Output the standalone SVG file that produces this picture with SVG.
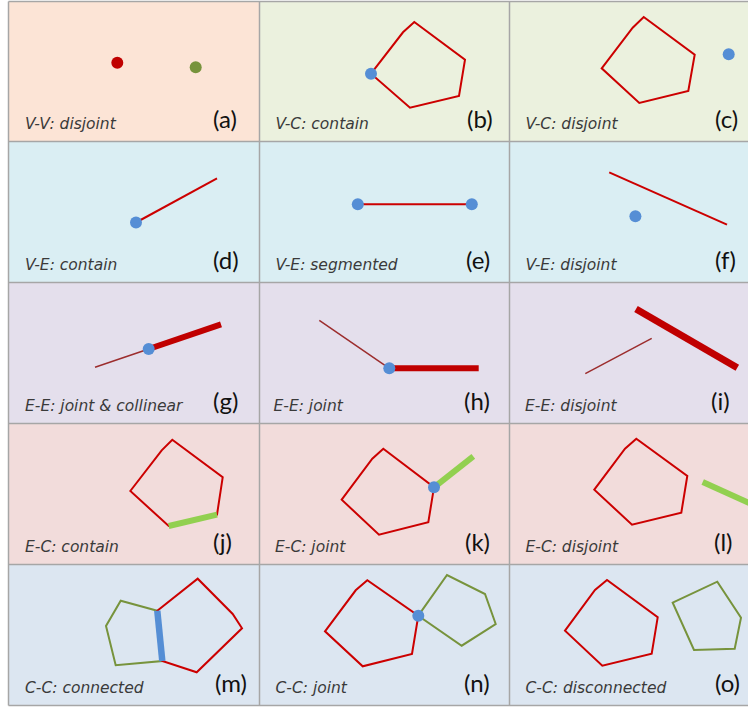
<svg xmlns="http://www.w3.org/2000/svg" width="748" height="708" viewBox="0 0 748 708">
<style>
.cap{font-family:"DejaVu Sans","Open Sans",sans-serif;font-style:italic;font-size:15.5px;fill:#3a3a3a}
.lab{font-family:Lato,"Liberation Sans",sans-serif;font-size:24px;fill:#111}
.grid{stroke:#a6a6a6;stroke-width:1.5;fill:none}
.pr{fill:none;stroke:#cc0000;stroke-width:2;stroke-linejoin:miter}
.pg{fill:none;stroke:#77933c;stroke-width:2}
.er{stroke:#cc0000;stroke-width:2}
.thin{stroke:#9c2d2d;stroke-width:1.5}
.thick{stroke:#c00000;stroke-width:6}
.eg{stroke:#92d050;stroke-width:6}
.vb{fill:#558ed5}
</style>
<rect x="0" y="0" width="748" height="708" fill="#ffffff"/>
<g id="backgrounds">
<rect x="9" y="2" width="251" height="140" fill="#fce4d6"/>
<rect x="259" y="2" width="489" height="140" fill="#ebf1de"/>
<rect x="9" y="141" width="739" height="141" fill="#daeef3"/>
<rect x="9" y="282" width="739" height="141" fill="#e4dfec"/>
<rect x="9" y="423" width="739" height="141" fill="#f2dcdb"/>
<rect x="9" y="564" width="739" height="141" fill="#dce6f1"/>
</g>
<g id="grid" class="grid">
<line x1="8.5" y1="1.5" x2="748" y2="1.5"/>
<line x1="8.5" y1="141.5" x2="748" y2="141.5"/>
<line x1="8.5" y1="282.5" x2="748" y2="282.5"/>
<line x1="8.5" y1="423.5" x2="748" y2="423.5"/>
<line x1="8.5" y1="564.5" x2="748" y2="564.5"/>
<line x1="8.5" y1="705.5" x2="748" y2="705.5"/>
<line x1="8.5" y1="1.5" x2="8.5" y2="705.5"/>
<line x1="259.5" y1="1.5" x2="259.5" y2="705.5"/>
<line x1="509.5" y1="1.5" x2="509.5" y2="705.5"/>
</g>
<g id="panel-a">
<circle cx="117.3" cy="62.7" r="6" fill="#c00000"/>
<circle cx="195.7" cy="67.3" r="6" fill="#77933c"/>
<text class="cap" x="25" y="129">V-V: disjoint</text>
<text class="lab" x="213" y="128">(a)</text>
</g>
<g id="panel-b">
<polygon class="pr" points="371,73.7 403,32.3 414.3,22 465,59.7 459,96 410,107.7"/>
<circle class="vb" cx="371" cy="73.7" r="6"/>
<text class="cap" x="275.5" y="129">V-C: contain</text>
<text class="lab" x="467" y="128">(b)</text>
</g>
<g id="panel-c">
<polygon class="pr" points="601.7,68.3 632.7,27.7 643.7,17 694.7,54.7 688.3,91 639.3,103"/>
<circle class="vb" cx="728.7" cy="54.3" r="6"/>
<text class="cap" x="525.5" y="129">V-C: disjoint</text>
<text class="lab" x="715" y="128">(c)</text>
</g>
<g id="panel-d">
<line class="er" x1="136" y1="222.5" x2="217" y2="178.3"/>
<circle class="vb" cx="136" cy="222.5" r="6"/>
<text class="cap" x="25" y="270">V-E: contain</text>
<text class="lab" x="213" y="269">(d)</text>
</g>
<g id="panel-e">
<line class="er" x1="357.8" y1="204.3" x2="471.8" y2="204.3"/>
<circle class="vb" cx="357.8" cy="204.3" r="6"/>
<circle class="vb" cx="471.8" cy="204.3" r="6"/>
<text class="cap" x="275.5" y="270">V-E: segmented</text>
<text class="lab" x="466" y="269">(e)</text>
</g>
<g id="panel-f">
<line class="er" x1="609.2" y1="172.3" x2="727" y2="224.7"/>
<circle class="vb" cx="635.4" cy="216.3" r="6"/>
<text class="cap" x="525.5" y="270">V-E: disjoint</text>
<text class="lab" x="715" y="269">(f)</text>
</g>
<g id="panel-g">
<line class="thin" x1="95" y1="367.3" x2="148.7" y2="349"/>
<line class="thick" x1="148.7" y1="349" x2="221" y2="324.3"/>
<circle class="vb" cx="148.7" cy="349" r="6"/>
<text class="cap" x="25" y="411">E-E: joint &amp; collinear</text>
<text class="lab" x="213" y="410">(g)</text>
</g>
<g id="panel-h">
<line class="thin" x1="319.3" y1="320.3" x2="389.3" y2="368.3"/>
<line class="thick" x1="389.3" y1="368.3" x2="478.7" y2="368.3"/>
<circle class="vb" cx="389.3" cy="368.3" r="6"/>
<text class="cap" x="273.5" y="411">E-E: joint</text>
<text class="lab" x="464" y="410">(h)</text>
</g>
<g id="panel-i">
<line class="thin" x1="585.3" y1="373.7" x2="651.7" y2="338.3"/>
<line class="thick" x1="636" y1="309" x2="737.3" y2="367.7" style="stroke-width:7"/>
<text class="cap" x="525" y="411">E-E: disjoint</text>
<text class="lab" x="711" y="410">(i)</text>
</g>
<g id="panel-j">
<polygon class="pr" points="130.3,491 161.7,450.3 172.3,439.7 222.7,477.3 217,514.7 168.7,526"/>
<line class="eg" x1="168.7" y1="526" x2="217" y2="514.7"/>
<text class="cap" x="25" y="552">E-C: contain</text>
<text class="lab" x="213" y="551">(j)</text>
</g>
<g id="panel-k">
<polygon class="pr" points="341.7,499.7 372.3,458.7 383.3,448.7 434,487.3 428.3,522.3 379,534.7"/>
<line class="eg" x1="434" y1="487.3" x2="473.3" y2="456.3"/>
<circle class="vb" cx="434" cy="487.3" r="6"/>
<text class="cap" x="275" y="552">E-C: joint</text>
<text class="lab" x="465" y="551">(k)</text>
</g>
<g id="panel-l">
<polygon class="pr" points="594.3,489.7 625,448.7 636.3,438.7 687.3,476 681.3,512.7 632,524.7"/>
<line class="eg" x1="702.7" y1="482" x2="760" y2="508"/>
<text class="cap" x="525.5" y="552">E-C: disjoint</text>
<text class="lab" x="714" y="551">(l)</text>
</g>
<g id="panel-m">
<polygon class="pg" points="157.3,610.7 120.7,600.7 106,626 115.7,665.3 162.3,661"/>
<polygon class="pr" points="157.3,610.7 197.7,578.7 232.7,614 242,628.3 196.7,672.3 162.3,661"/>
<line x1="157.3" y1="610.7" x2="162.3" y2="661" stroke="#558ed5" stroke-width="6.5"/>
<text class="cap" x="25" y="693">C-C: connected</text>
<text class="lab" x="215" y="692">(m)</text>
</g>
<g id="panel-n">
<polygon class="pr" points="325,631.3 355.7,590.3 367.3,580.3 418.3,615.7 412,654 362.7,666.3"/>
<polygon class="pg" points="418.3,615.7 447,575 485,594 495.7,624 461.7,645.7"/>
<circle class="vb" cx="418.3" cy="615.7" r="6"/>
<text class="cap" x="275.5" y="693">C-C: joint</text>
<text class="lab" x="464" y="692">(n)</text>
</g>
<g id="panel-o">
<polygon class="pr" points="565,630.7 595,590 607,580 657.7,617.3 651.7,653.7 602.3,665.7"/>
<polygon class="pg" points="672.7,602.7 717.3,581.7 741,617.7 734.7,648.7 694,650"/>
<text class="cap" x="525.5" y="693">C-C: disconnected</text>
<text class="lab" x="715" y="692">(o)</text>
</g>
</svg>
